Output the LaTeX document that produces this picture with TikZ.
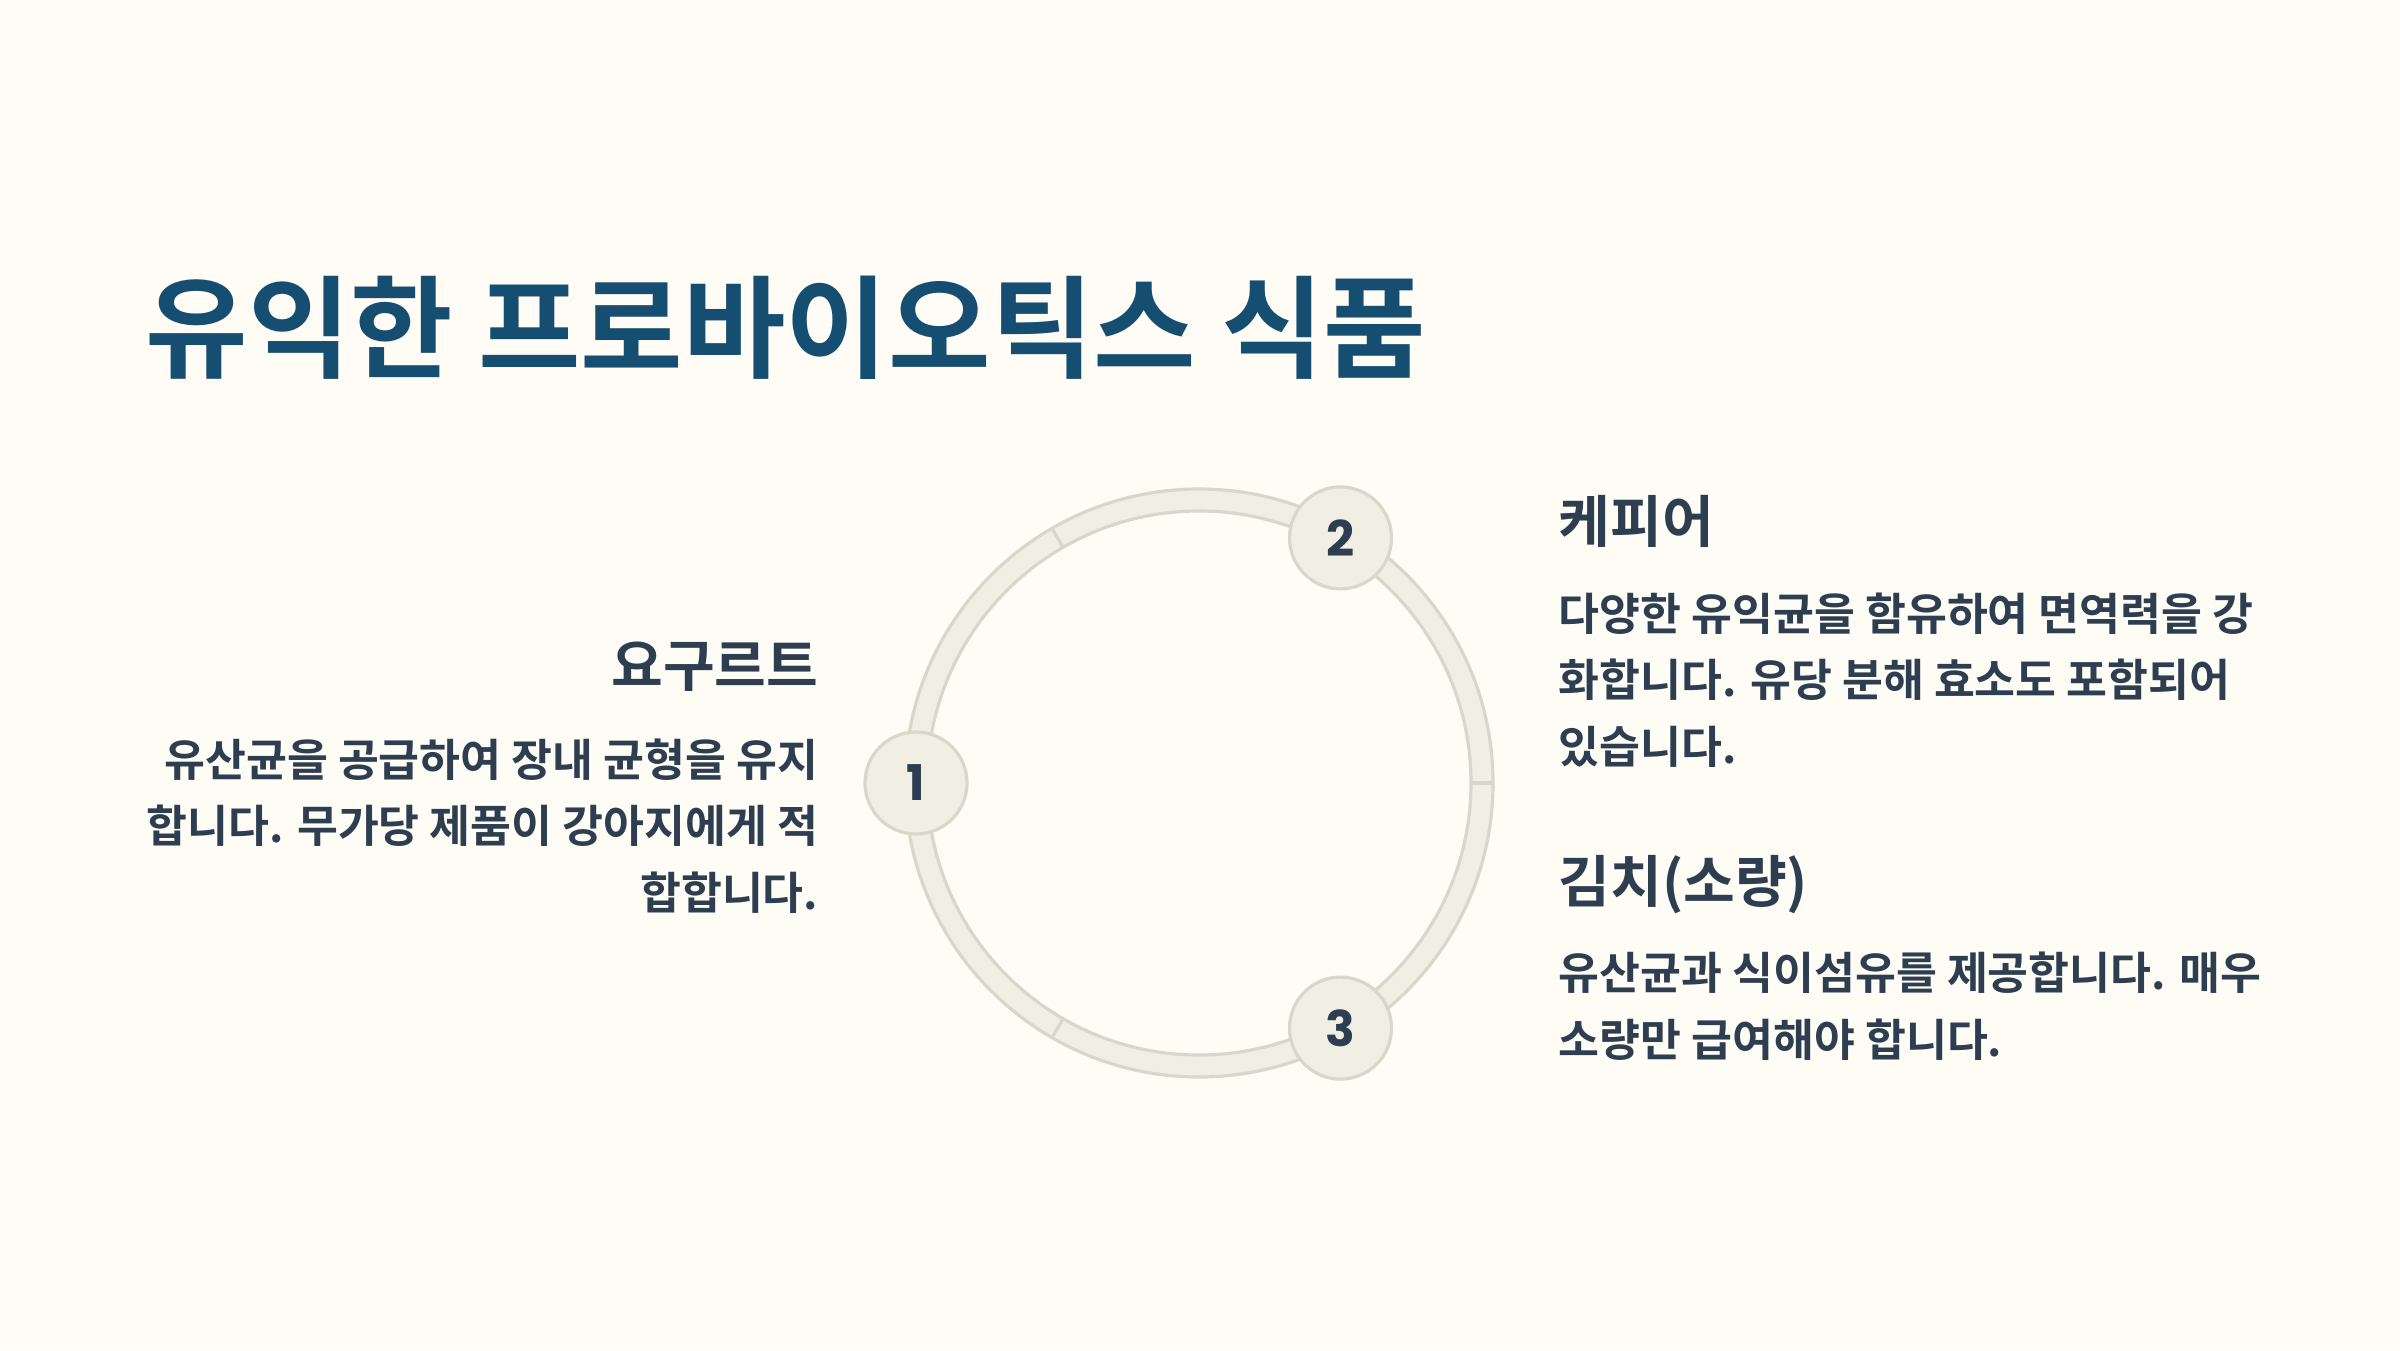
\documentclass[tikz,border=0pt]{standalone}
\usepackage{fontspec}
\setmainfont{Noto Sans CJK KR}[BoldFont={Noto Sans CJK KR Bold}]
\newfontfamily\numfont{Poppins}
\definecolor{paper}{HTML}{FFFCF5}
\definecolor{titleblue}{HTML}{164E72}
\definecolor{ink}{HTML}{2C3E50}
\definecolor{ringfill}{HTML}{F1EEE4}
\definecolor{ringedge}{HTML}{D9D6CA}
\begin{document}
\begin{tikzpicture}[x=1cm, y=1cm,
  ringline/.style={draw=ringedge, line width=0.9pt},
  numdot/.style={circle, fill=ringfill, draw=ringedge, line width=0.9pt,
    minimum size=1.02cm, inner sep=0pt, text=ink,
    font=\numfont\bfseries\fontsize{14}{14}\selectfont},
  heading/.style={inner sep=0pt, text=ink, font=\bfseries\fontsize{16}{19}\selectfont},
  body/.style={inner sep=0pt, text=ink, font=\bfseries\fontsize{12.65}{18.8}\selectfont}]
\useasboundingbox[fill=paper] (0,0) rectangle (24,13.5);
% Titel
\node[anchor=base west, inner sep=0pt, text=titleblue,
  font=\bfseries\fontsize{31.7}{36}\selectfont] (title) at (1.45,9.80) {유익한 프로바이오틱스 식품};
% Ring mit drei Abschnitten
\begin{scope}[shift={(11.99,5.67)}]
\fill[ringfill, even odd rule] (0,0) circle (2.94) (0,0) circle (2.72);
\draw[ringline] (0,0) circle (2.94) (0,0) circle (2.72);
\foreach \a in {0,120,240}
  \draw[ringline] (\a:2.72) -- (\a:2.94);
\node[numdot] (n1) at (180:2.83) {1};
\node[numdot] (n2) at (60:2.83) {2};
\node[numdot] (n3) at (-60:2.83) {3};
\end{scope}
% Joghurt (base = letzte Zeile)
\node[heading, anchor=base east] (yogurt) at (8.19,6.64) {요구르트};
\node[body, anchor=base east, align=right] (yogurttxt) at (8.19,4.41)
  {유산균을 공급하여 장내 균형을 유지\\합니다. 무가당 제품이 강아지에게 적\\합합니다.};
% Kefir
\node[heading, anchor=base west] (kefir) at (15.58,8.08) {케피어};
\node[body, anchor=base west, align=left] (kefirtxt) at (15.58,5.87)
  {다양한 유익균을 함유하여 면역력을 강\\화합니다. 유당 분해 효소도 포함되어\\있습니다.};
% Kimchi
\node[heading, anchor=base west] (kimchi) at (15.58,4.48) {김치(소량)};
\node[body, anchor=base west, align=left] (kimchitxt) at (15.58,2.94)
  {유산균과 식이섬유를 제공합니다. 매우\\소량만 급여해야 합니다.};
\end{tikzpicture}
\end{document}
